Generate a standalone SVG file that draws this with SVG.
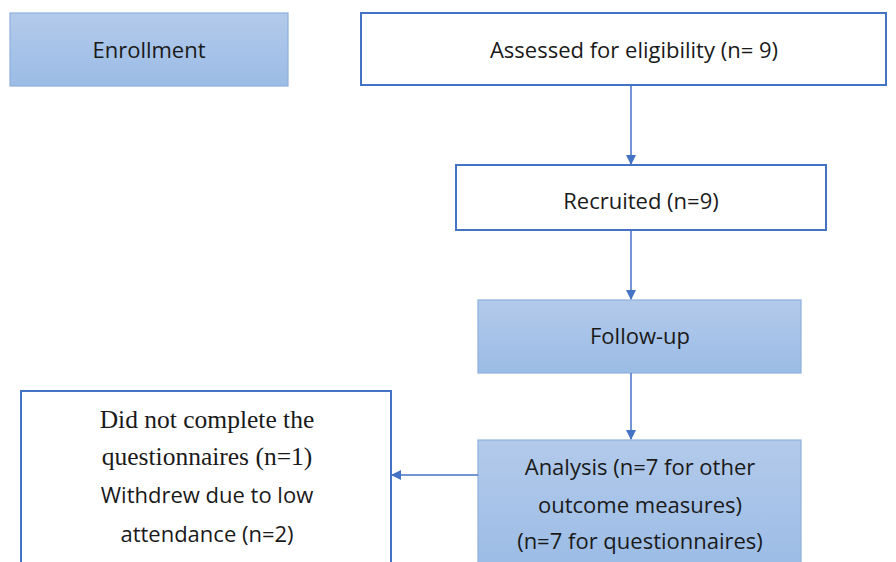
<svg xmlns="http://www.w3.org/2000/svg" width="896" height="562" viewBox="0 0 896 562">
<defs>
<linearGradient id="blue" x1="0" y1="0" x2="0" y2="1">
<stop offset="0" stop-color="#b3caea"/>
<stop offset="1" stop-color="#9bbce6"/>
</linearGradient>
<marker id="arr" markerWidth="10" markerHeight="10" refX="9" refY="5" orient="auto" markerUnits="userSpaceOnUse">
<path d="M0,0 L10,5 L0,10 z" fill="#4472c4"/>
</marker>
<style>
.filled{fill:url(#blue);stroke:#8eb0dd;stroke-width:1.2}
.plain{fill:#fff;stroke:#4472c4;stroke-width:2}
.t{font-family:"Open Sans","Liberation Sans",sans-serif;font-size:22px;fill:#1a1a1a;text-anchor:middle}
.s{font-family:"Liberation Serif",serif;font-size:25.5px;fill:#1a1a1a;text-anchor:middle}
.c{stroke:#4472c4;stroke-width:1.5;fill:none;marker-end:url(#arr)}
</style>
</defs>
<rect width="896" height="562" fill="#fff"/>
<g id="enrollment">
<rect class="filled" x="10" y="13" width="278" height="73"/>
<text class="t" x="149" y="58">Enrollment</text>
</g>
<g id="assessed">
<rect class="plain" x="361" y="13" width="525" height="72"/>
<text class="t" x="634" y="58">Assessed for eligibility (n= 9)</text>
</g>
<g id="recruited">
<rect class="plain" x="456" y="165" width="370" height="65"/>
<text class="t" x="641" y="209">Recruited (n=9)</text>
</g>
<g id="followup">
<rect class="filled" x="478" y="300" width="323" height="73"/>
<text class="t" x="640" y="344">Follow-up</text>
</g>
<g id="analysis">
<rect class="filled" x="478" y="440" width="323" height="130"/>
<text class="t" x="640" y="475">Analysis (n=7 for other</text>
<text class="t" x="640" y="513">outcome measures)</text>
<text class="t" x="640" y="549">(n=7 for questionnaires)</text>
</g>
<g id="excluded">
<rect class="plain" x="21" y="391" width="370" height="180"/>
<text class="s" x="207" y="428">Did not complete the</text>
<text class="s" x="207" y="465">questionnaires (n=1)</text>
<text class="t" x="207" y="503">Withdrew due to low</text>
<text class="t" x="207" y="542">attendance (n=2)</text>
</g>
<g id="connectors">
<line class="c" x1="631" y1="85" x2="631" y2="164"/>
<line class="c" x1="631" y1="230" x2="631" y2="299"/>
<line class="c" x1="631" y1="373" x2="631" y2="439"/>
<line class="c" x1="478" y1="475" x2="392" y2="475"/>
</g>
</svg>
